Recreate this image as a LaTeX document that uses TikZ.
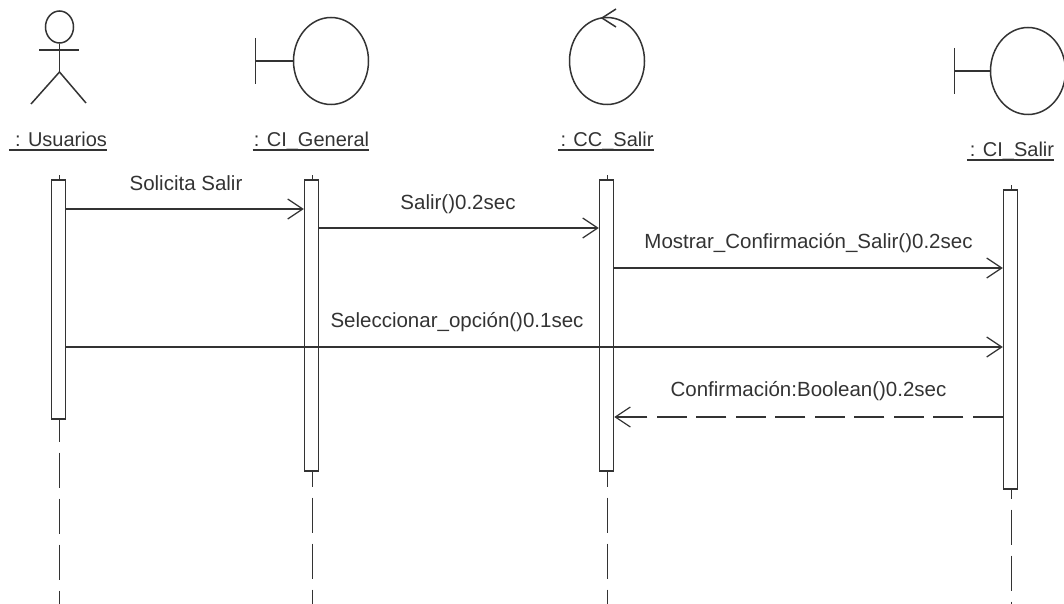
\documentclass[tikz,border=0pt]{standalone}
\usepackage{fontspec}
\setmainfont{Liberation Sans}
\usetikzlibrary{arrows.meta, positioning, shapes.geometric}
\definecolor{ink}{gray}{0.2}
\tikzset{
  obj/.style={ellipse,draw=ink,line width=1.5pt,inner sep=0pt,minimum width=75pt,minimum height=87pt},
  actorhead/.style={ellipse,draw=ink,line width=1.5pt,inner sep=0pt,minimum width=28pt,minimum height=32pt},
  bar/.style={rectangle,draw=ink,line width=1.5pt,fill=white,inner sep=0pt,minimum width=14pt,anchor=north},
  objname/.style={inner sep=0pt,anchor=base,font=\fontsize{20}{24}\selectfont,text=ink},
  msg/.style={inner sep=0pt,anchor=base,font=\fontsize{20.5}{24}\selectfont,text=ink},
  line/.style={draw=ink,line width=1.5pt,-{Straight Barb[length=15pt,width=20pt,line width=1.2pt]}},
  reply/.style={line,dash pattern=on 30pt off 9.5pt},
  life/.style={draw=ink,line width=1.5pt},
  glyph/.style={draw=ink,line width=1.5pt}
}
\begin{document}
\begin{tikzpicture}[x=1pt,y=-1pt]
\useasboundingbox (0,0) rectangle (1064,604);
% icons
\node[actorhead] (headU) at (59.5,27) {};
\coordinate (hipU) at (59.5,72);
\coordinate (armL) at (39,50);
\coordinate (armR) at (79,50);
\coordinate (legL) at (31,104);
\coordinate (legR) at (86,103);
\draw[glyph] (headU) -- (hipU);
\draw[glyph] (armL) -- (armR);
\draw[glyph] (legL) -- (hipU) -- (legR);
\node[obj] (objGen) at (331,61) {};
\coordinate (tGen) at (255.5,61);
\draw[glyph] (objGen) -- (tGen);
\draw[glyph] (255.5,38) -- (255.5,84);
\node[obj] (objCC) at (607,61) {};
\draw[glyph] (616,9) -- (602,18) -- (616,27);
\node[obj] (objSal) at (1028,71) {};
\coordinate (tSal) at (954.5,71);
\draw[glyph] (objSal) -- (tSal);
\draw[glyph] (954.5,48) -- (954.5,94);
% names
\node[objname] (nameU) at (61,147) {: Usuarios};
\node[objname] (nameGen) at (311.5,147) {: CI\_General};
\node[objname] (nameCC) at (607,147) {: CC\_Salir};
\node[objname] (nameSal) at (1012,157) {: CI\_Salir};
\foreach \n/\y/\o in {nameU/150/6,nameGen/150/1,nameCC/150/2,nameSal/160/3}
  \draw[glyph] ([xshift=-\o pt]\n.west |- 0,\y) -- (\n.east |- 0,\y);
% lifelines
\node[bar,minimum height=239pt] (barU) at (58.5,179) {};
\node[bar,minimum height=291pt] (barGen) at (311.5,179) {};
\node[bar,minimum height=291pt] (barCC) at (606.5,179) {};
\node[bar,minimum height=299pt] (barSal) at (1010.5,189) {};
\foreach \b/\t/\p in {barU/175/13,barGen/175/20,barCC/175/20,barSal/185/26}{
  \draw[life] ([xshift=1pt]\b.north) -- ([xshift=1pt]\b.north |- 0,\t);
  \draw[life,dash pattern=on 35pt off 11pt,dash phase=\p pt] ([xshift=1pt]\b.south) -- ([xshift=1pt]\b.south |- 0,604);
}
% messages
\coordinate (m1) at (0,209);
\coordinate (m2) at (0,228);
\coordinate (m3) at (0,268);
\coordinate (m4) at (0,347);
\coordinate (m5) at (0,417);
\draw[line] (barU.east |- m1) -- (barGen.west |- m1);
\draw[line] (barGen.east |- m2) -- (barCC.west |- m2);
\draw[line] (barCC.east |- m3) -- (barSal.west |- m3);
\draw[line] (barU.east |- m4) -- (barSal.west |- m4);
\draw[reply] (barSal.west |- m5) -- (barCC.east |- m5);
\node[msg] (t1) at (186,190) {Solicita Salir};
\node[msg] (t2) at (458,209) {Salir()0.2sec};
\node[msg] (t3) at (808.5,248) {Mostrar\_Confirmación\_Salir()0.2sec};
\node[msg] (t4) at (457,327) {Seleccionar\_opción()0.1sec};
\node[msg] (t5) at (808.5,396) {Confirmación:Boolean()0.2sec};
\end{tikzpicture}
\end{document}
